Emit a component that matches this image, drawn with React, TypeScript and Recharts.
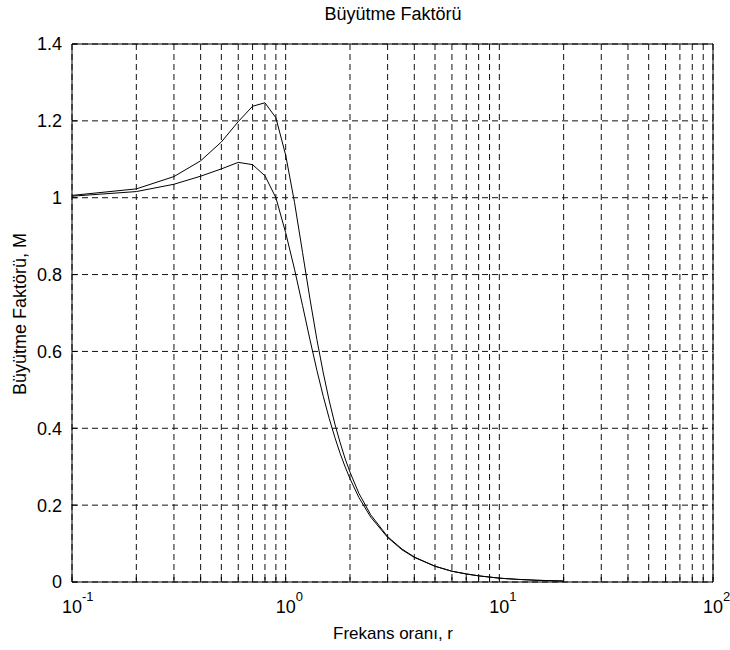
import React from 'react';
import { LineChart, Line, XAxis, YAxis, CartesianGrid } from 'recharts';

// frekans oranı r ve iki sönüm oranı için büyütme faktörü
const freqRatio = [
  0.1, 0.2, 0.3, 0.4, 0.5, 0.6, 0.7, 0.8, 0.9, 1.0,
  1.1, 1.2, 1.3, 1.4, 1.5, 1.6, 1.7, 1.8, 1.9, 2.0,
  2.2, 2.5, 3, 3.5, 4, 5, 6, 7, 8, 10, 12, 15, 20,
];
const upperM = [
  1.006, 1.023, 1.055, 1.096, 1.145, 1.198, 1.238, 1.247, 1.208, 1.111,
  0.988, 0.857, 0.736, 0.631, 0.544, 0.471, 0.411, 0.362, 0.32, 0.286,
  0.231, 0.175, 0.118, 0.086, 0.065, 0.041, 0.028, 0.021, 0.016, 0.01, 0.007, 0.0045, 0.0025,
];
const lowerM = [
  1.004, 1.016, 1.035, 1.056, 1.075, 1.092, 1.086, 1.057, 1.0, 0.909,
  0.814, 0.719, 0.63, 0.551, 0.483, 0.425, 0.376, 0.334, 0.299, 0.269,
  0.22, 0.169, 0.116, 0.084, 0.064, 0.041, 0.028, 0.021, 0.016, 0.01, 0.007, 0.0045, 0.0025,
];

const xTicks = [
  0.1, 0.2, 0.3, 0.4, 0.5, 0.6, 0.7, 0.8, 0.9,
  1, 2, 3, 4, 5, 6, 7, 8, 9,
  10, 20, 30, 40, 50, 60, 70, 80, 90, 100,
];
const yTicks = [0, 0.2, 0.4, 0.6, 0.8, 1, 1.2, 1.4];

const data = freqRatio.map((r, i) => ({ r, upper: upperM[i], lower: lowerM[i] }));

const FONT = '"Liberation Sans", Arial, Helvetica, sans-serif';

const PowerTick = (props: any) => {
  const { x, y, payload } = props;
  const lg = Math.log10(payload.value);
  const e = Math.round(lg);
  if (Math.abs(lg - e) > 1e-6) return <g />;
  return (
    <g>
      <text x={x} y={y} textAnchor="middle" fontSize={18} fill="#000" fontFamily={FONT}>10</text>
      <text x={x + 10} y={y - 12} textAnchor="start" fontSize={13} fill="#000" fontFamily={FONT}>{e}</text>
    </g>
  );
};

export default function App() {
  return (
    <div style={{ position: 'absolute', left: 0, top: 0, width: 730, height: 650, background: '#fff', fontFamily: FONT }}>
      <div style={{ position: 'absolute', left: 393, top: 14, transform: 'translate(-50%, -50%)', fontSize: 18, whiteSpace: 'nowrap' }}>
        Büyütme Faktörü
      </div>
      <div style={{ position: 'absolute', left: 393, top: 634, transform: 'translate(-50%, -50%)', fontSize: 17, whiteSpace: 'nowrap' }}>
        Frekans oranı, r
      </div>
      <div style={{ position: 'absolute', left: 20, top: 314, transform: 'translate(-50%, -50%) rotate(-90deg)', fontSize: 18, whiteSpace: 'nowrap' }}>
        Büyütme Faktörü, M
      </div>
      <LineChart width={730} height={650} data={data} margin={{ top: 43, right: 16, bottom: 28, left: 0 }}>
        <CartesianGrid stroke="#111" strokeDasharray="6 4" strokeWidth={1} />
        <XAxis
          dataKey="r"
          type="number"
          scale="log"
          domain={[0.1, 100]}
          allowDataOverflow
          ticks={xTicks}
          interval={0}
          height={40}
          tickSize={-5}
          tickMargin={36}
          tick={<PowerTick />}
          stroke="#000"
        />
        <XAxis
          xAxisId="top"
          orientation="top"
          dataKey="r"
          type="number"
          scale="log"
          domain={[0.1, 100]}
          allowDataOverflow
          ticks={xTicks}
          interval={0}
          height={1}
          tickSize={-5}
          tick={false}
          stroke="#000"
        />
        <YAxis
          type="number"
          domain={[0, 1.4]}
          ticks={yTicks}
          interval={0}
          width={72}
          tickSize={-5}
          tickMargin={15}
          tick={{ fontSize: 18, fill: '#000', fontFamily: FONT }}
          stroke="#000"
        />
        <YAxis
          yAxisId="right"
          orientation="right"
          type="number"
          domain={[0, 1.4]}
          ticks={yTicks}
          interval={0}
          width={1}
          tickSize={-5}
          tick={false}
          stroke="#000"
        />
        <Line type="linear" dataKey="upper" stroke="#000" strokeWidth={1} dot={false} isAnimationActive={false} />
        <Line type="linear" dataKey="lower" stroke="#000" strokeWidth={1} dot={false} isAnimationActive={false} />
      </LineChart>
    </div>
  );
}
